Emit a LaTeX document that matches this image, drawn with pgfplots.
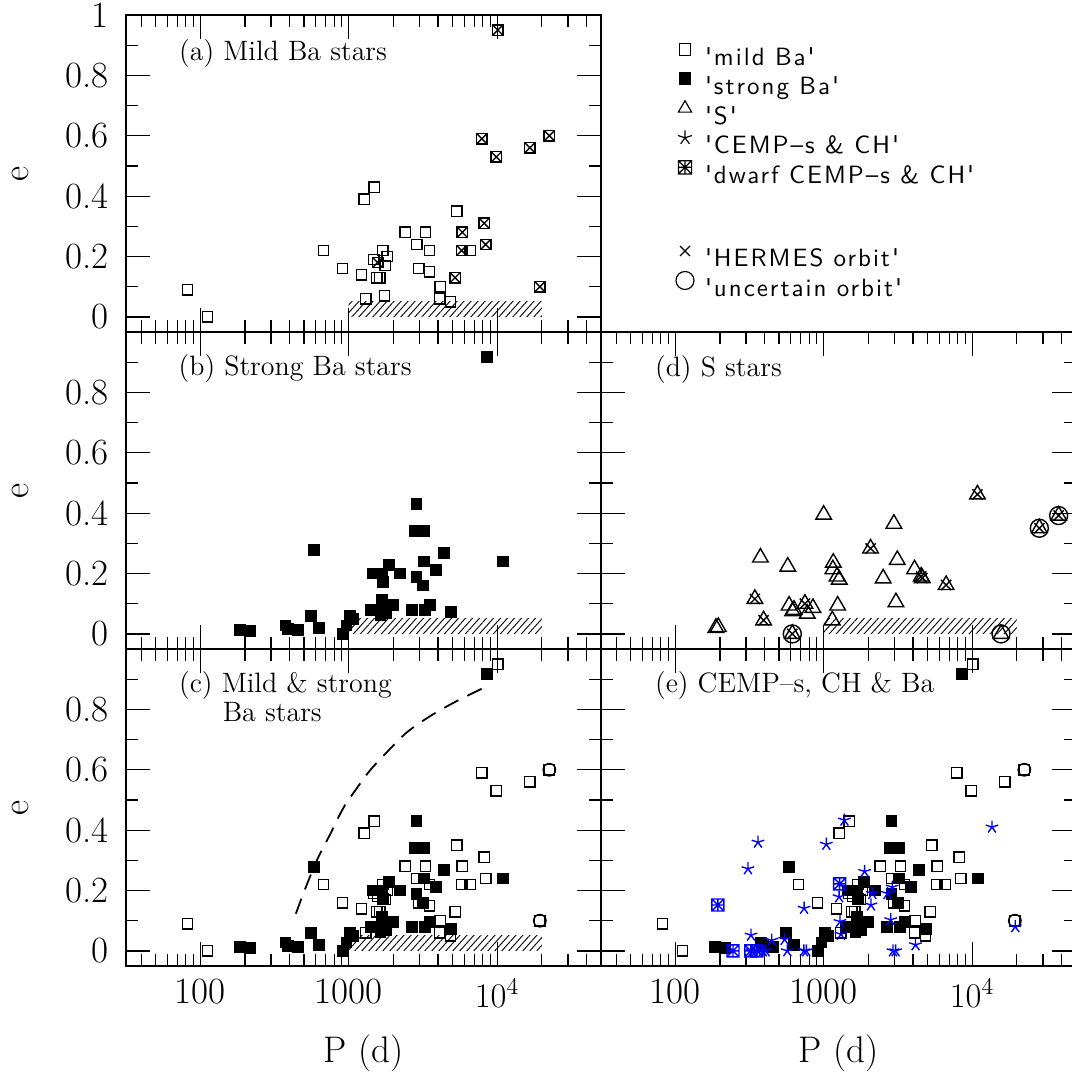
\documentclass[border=0pt]{standalone}
\usepackage{fontspec}
\usepackage{pgfplots}
\pgfplotsset{compat=1.18}
\usepackage{pgfplotstable}
\usetikzlibrary{patterns.meta}
\newfontfamily\legfont{lmsans10-regular.otf}[LetterSpace=8]

\pgfdeclareplotmark{dwarf}{%
  \pgfpathrectangle{\pgfqpoint{-\pgfplotmarksize}{-\pgfplotmarksize}}{\pgfqpoint{2\pgfplotmarksize}{2\pgfplotmarksize}}%
  \pgfpathmoveto{\pgfqpoint{-\pgfplotmarksize}{0pt}}\pgfpathlineto{\pgfqpoint{\pgfplotmarksize}{0pt}}%
  \pgfpathmoveto{\pgfqpoint{0pt}{-\pgfplotmarksize}}\pgfpathlineto{\pgfqpoint{0pt}{\pgfplotmarksize}}%
  \pgfpathmoveto{\pgfqpoint{-\pgfplotmarksize}{-\pgfplotmarksize}}\pgfpathlineto{\pgfqpoint{\pgfplotmarksize}{\pgfplotmarksize}}%
  \pgfpathmoveto{\pgfqpoint{-\pgfplotmarksize}{\pgfplotmarksize}}\pgfpathlineto{\pgfqpoint{\pgfplotmarksize}{-\pgfplotmarksize}}%
  \pgfusepathqstroke}

% mild Ba stars: P (d), e, h = HERMES orbit, u = uncertain orbit
\pgfplotstableread{
P e h u
82 0.09 0 0
112 0.00 0 0
676 0.22 0 0
910 0.16 0 0
1222 0.14 0 0
1274 0.39 0 0
1486 0.43 0 0
1306 0.06 0 0
1479 0.19 0 0
1567 0.18 1 0
1549 0.13 0 0
1622 0.13 0 0
1694 0.22 0 0
1820 0.20 0 0
1766 0.17 0 0
1746 0.07 0 0
2399 0.28 0 0
2871 0.24 0 0
2972 0.16 0 0
3289 0.28 0 0
3508 0.22 0 0
3508 0.15 0 0
4140 0.10 0 0
4111 0.06 0 0
4853 0.05 0 0
5346 0.35 0 0
5212 0.13 1 0
5834 0.28 1 0
5768 0.22 1 0
6607 0.22 0 0
7889 0.59 1 0
8185 0.31 1 0
8375 0.24 1 0
9886 0.53 1 0
10116 0.95 1 0
16634 0.56 1 0
22490 0.60 1 1
19409 0.10 1 1
}\mildtab

% strong Ba stars
\pgfplotstableread{
P e h u
186 0.012 0 0
217 0.009 0 0
376 0.028 0 0
392 0.017 0 0
453 0.012 0 0
555 0.059 0 0
581 0.278 0 0
631 0.02 0 0
916 0.0 0 0
966 0.028 0 0
1026 0.058 0 0
1072 0.05 0 0
1419 0.078 0 0
1462 0.2 0 0
1690 0.2 0 0
1706 0.171 0 0
1679 0.113 0 0
1690 0.089 0 0
1641 0.061 0 0
1778 0.069 0 0
1862 0.229 0 0
1995 0.097 0 0
2213 0.2 0 0
2661 0.078 0 0
2864 0.43 0 0
2799 0.34 0 0
3214 0.34 0 0
2864 0.189 0 0
3199 0.24 0 0
3184 0.16 0 0
3258 0.078 0 0
3548 0.097 0 0
3864 0.211 0 0
4365 0.269 1 0
4875 0.072 1 0
8511 0.916 1 0
10965 0.24 1 0
}\strongtab

% S stars
\pgfplotstableread{
P e h u
188 0.02 0 0
195 0.023 0 0
344 0.116 1 0
394 0.045 1 0
375 0.253 0 0
573 0.223 0 0
615 0.0 1 1
585 0.094 0 0
617 0.075 0 0
631 0.08 0 0
748 0.10 1 0
776 0.067 0 0
847 0.086 0 0
1000 0.395 0 0
1143 0.045 0 0
1242 0.094 0 0
1161 0.236 0 0
1153 0.214 0 0
1230 0.19 0 0
1274 0.18 0 0
2070 0.283 1 0
2518 0.184 0 0
2972 0.365 0 0
3133 0.245 0 0
3069 0.105 0 0
4093 0.214 0 0
4539 0.19 1 0
4613 0.185 1 0
6683 0.162 1 0
10864 0.462 1 0
15668 0.0 0 1
28379 0.35 1 1
38282 0.392 1 1
}\stab

% CEMP-s & CH
\pgfplotstableread{
P e
309 0.272
361 0.36
324 0.052
447 0.035
546 0.038
569 0.0
331 0.0
363 0.0
389 0.0
407 0.0
736 0.0
764 0.0
738 0.141
1042 0.353
1380 0.433
1271 0.179
1288 0.097
1309 0.055
1888 0.263
2128 0.19
2084 0.152
2692 0.19
2897 0.211
2831 0.103
2931 0.0
3055 0.0
4159 0.02
13614 0.41
19543 0.08
}\cemptab

% dwarf CEMP-s & CH
\pgfplotstableread{
P e
194 0.152
245 0.0
323 0.0
355 0.0
1282 0.222
}\dwarftab

% dashed curve in panel (c)
\pgfplotstableread{
P e
441 0.123
494 0.189
608 0.298
748 0.385
920 0.473
1132 0.538
1393 0.598
1807 0.658
2466 0.724
3548 0.778
5370 0.828
8337 0.874
}\curvetab

\pgfplotsset{
 every axis/.append style={
  scale only axis, width=237.5pt, height=158.5pt, anchor=south west,
  xmode=log, xmin=31.6228, xmax=50118.7, ymin=-0.05, ymax=1,
  xtick={100,1000,10000},
  minor xtick={40,50,60,70,80,90,200,300,400,500,600,700,800,900,2000,3000,4000,5000,6000,7000,8000,9000,20000,30000,40000},
  ytick={0,0.2,0.4,0.6,0.8,1},
  minor ytick={0.1,0.3,0.5,0.7,0.9},
  tick align=inside, xtick pos=both, ytick pos=both,
  major tick length=12pt, minor tick length=6pt,
  every tick/.style={black, line width=0.6pt},
  axis line style={black, line width=0.8pt},
  ticklabel style={font=\fontsize{18.5}{20}\selectfont},
  yticklabel style={xshift=-5pt},
  xticklabel style={yshift=-3pt},
  label style={font=\fontsize{18.5}{20}\selectfont},
 },
 myopen/.style={only marks, mark=square, mark size=2.6pt, black, line width=0.7pt, forget plot},
 myfill/.style={only marks, mark=square*, mark size=2.6pt, black, mark options={fill=black}, line width=0.7pt, forget plot},
 myx/.style={only marks, mark=x, mark size=3.4pt, black, line width=0.7pt, forget plot},
 mytri/.style={only marks, mark=triangle, mark size=4.5pt, black, line width=0.7pt, forget plot},
 mycirc/.style={only marks, mark=o, mark size=3.1pt, black, line width=0.7pt, forget plot},
 mycemp/.style={only marks, mark=star, mark size=3.3pt, blue, line width=0.7pt, forget plot},
 mydwarf/.style={only marks, mark=dwarf, mark size=3pt, blue, line width=0.7pt, forget plot},
 myhatch/.style={draw=none, pattern={Lines[angle=48,distance=2.6pt,line width=0.45pt]}, pattern color=black, forget plot},
}
\tikzset{mytitle/.style={anchor=base west, font=\fontsize{14}{16}\selectfont}}

\begin{document}
\begin{tikzpicture}
\useasboundingbox (0,0) rectangle (536pt,536.5pt);

% (a)
\begin{axis}[at={(63pt,370.5pt)},
  xticklabels={}, yticklabels={0,0.2,0.4,0.6,0.8,1},
  ylabel={e}, ylabel style={at={(axis description cs:-0.2232,0.5)}, anchor=center},
  legend image code/.code={\path[draw=none,fill=none] (0pt,-8pt) rectangle (10pt,14pt); \draw[#1] plot coordinates {(5pt,4.2pt)};},
  legend cell align=left,
  legend style={at={(axis description cs:1.1558,0.9536)}, anchor=north west, draw=none, fill=none,
     inner sep=0pt, outer sep=0pt, column sep=3pt, row sep=-7.25pt, font={\legfont\fontsize{12.5}{14}\selectfont}}]
\addplot[myhatch] coordinates {(1000,0) (1000,0.05) (20000,0.05) (20000,0)} -- cycle;
\addplot[myopen] table[x=P,y=e] {\mildtab};
\addplot[myx, restrict expr to domain={\thisrow{h}}{1:1}] table[x=P,y=e] {\mildtab};
\node[mytitle] at (rel axis cs:0.097,0.855) {(a) Mild Ba stars};
\addlegendimage{mark=square, black, line width=0.6pt, mark size=2.9pt}
\addlegendentry{'mild Ba'}
\addlegendimage{mark=square*, black, mark options={fill=black}, line width=0.6pt, mark size=2.9pt}
\addlegendentry{'strong Ba'}
\addlegendimage{mark=triangle, black, line width=0.6pt, mark size=3.8pt}
\addlegendentry{'S'}
\addlegendimage{mark=star, black, line width=0.6pt, mark size=3.7pt}
\addlegendentry{'CEMP–s \& CH'}
\addlegendimage{mark=dwarf, black, line width=0.6pt, mark size=3.3pt}
\addlegendentry{'dwarf CEMP–s \& CH'}
\end{axis}

% (b)
\begin{axis}[at={(63pt,212pt)},
  xticklabels={}, yticklabels={0,0.2,0.4,0.6,0.8,{}},
  ylabel={e}, ylabel style={at={(axis description cs:-0.2232,0.5)}, anchor=center}]
\addplot[myhatch] coordinates {(1000,0) (1000,0.05) (20000,0.05) (20000,0)} -- cycle;
\addplot[myfill] table[x=P,y=e] {\strongtab};
\addplot[myx, restrict expr to domain={\thisrow{h}}{1:1}] table[x=P,y=e] {\strongtab};
\node[mytitle] at (rel axis cs:0.096,0.864) {(b) Strong Ba stars};
\end{axis}

% (c)
\begin{axis}[at={(63pt,53.5pt)},
  xticklabels={100,1000,$10^4$}, yticklabels={0,0.2,0.4,0.6,0.8,{}},
  xlabel={P (d)}, xlabel style={at={(axis description cs:0.5,-0.3047)}, anchor=base},
  ylabel={e}, ylabel style={at={(axis description cs:-0.2232,0.5)}, anchor=center}]
\addplot[myhatch] coordinates {(1000,0) (1000,0.05) (20000,0.05) (20000,0)} -- cycle;
\addplot[black, line width=0.9pt, dash pattern=on 8pt off 5pt, smooth, forget plot] table[x=P,y=e] {\curvetab};
\addplot[myopen] table[x=P,y=e] {\mildtab};
\addplot[myfill] table[x=P,y=e] {\strongtab};
\addplot[mycirc, restrict expr to domain={\thisrow{u}}{1:1}] table[x=P,y=e] {\mildtab};
\node[mytitle] at (rel axis cs:0.097,0.863) {(c) Mild \& strong};
\node[mytitle] at (rel axis cs:0.189,0.771) {Ba stars};
\end{axis}

% (d)
\begin{axis}[at={(300.5pt,212pt)},
  xticklabels={}, yticklabels={},
  legend image code/.code={\path[draw=none,fill=none] (0pt,-8pt) rectangle (10pt,14pt); \draw[#1] plot coordinates {(5pt,4.2pt)};},
  legend cell align=left,
  legend style={at={(axis description cs:0.1558,1.3174)}, anchor=north west, draw=none, fill=none,
     inner sep=0pt, outer sep=0pt, column sep=3pt, row sep=-7.25pt, font={\legfont\fontsize{12.5}{14}\selectfont}}]
\addplot[myhatch] coordinates {(1000,0) (1000,0.05) (20000,0.05) (20000,0)} -- cycle;
\addplot[mytri] table[x=P,y=e] {\stab};
\addplot[myx, mark size=3.6pt, restrict expr to domain={\thisrow{h}}{1:1}] table[x=P,y=e] {\stab};
\addplot[mycirc, mark size=4.5pt, restrict expr to domain={\thisrow{u}}{1:1}] table[x=P,y=e] {\stab};
\node[mytitle] at (rel axis cs:0.099,0.861) {(d) S stars};
\addlegendimage{mark=x, black, line width=0.6pt, mark size=3.5pt}
\addlegendentry{'HERMES orbit'}
\addlegendimage{mark=o, black, line width=0.6pt, mark size=4.5pt}
\addlegendentry{'uncertain orbit'}
\end{axis}

% (e)
\begin{axis}[at={(300.5pt,53.5pt)},
  xticklabels={100,1000,$10^4$}, yticklabels={},
  xlabel={P (d)}, xlabel style={at={(axis description cs:0.5,-0.3047)}, anchor=base}]
\addplot[myopen] table[x=P,y=e] {\mildtab};
\addplot[myfill] table[x=P,y=e] {\strongtab};
\addplot[mycirc, restrict expr to domain={\thisrow{u}}{1:1}] table[x=P,y=e] {\mildtab};
\addplot[mydwarf] table[x=P,y=e] {\dwarftab};
\addplot[mycemp] table[x=P,y=e] {\cemptab};
\node[mytitle] at (rel axis cs:0.099,0.862) {(e) CEMP–s, CH \& Ba};
\end{axis}
\end{tikzpicture}
\end{document}
